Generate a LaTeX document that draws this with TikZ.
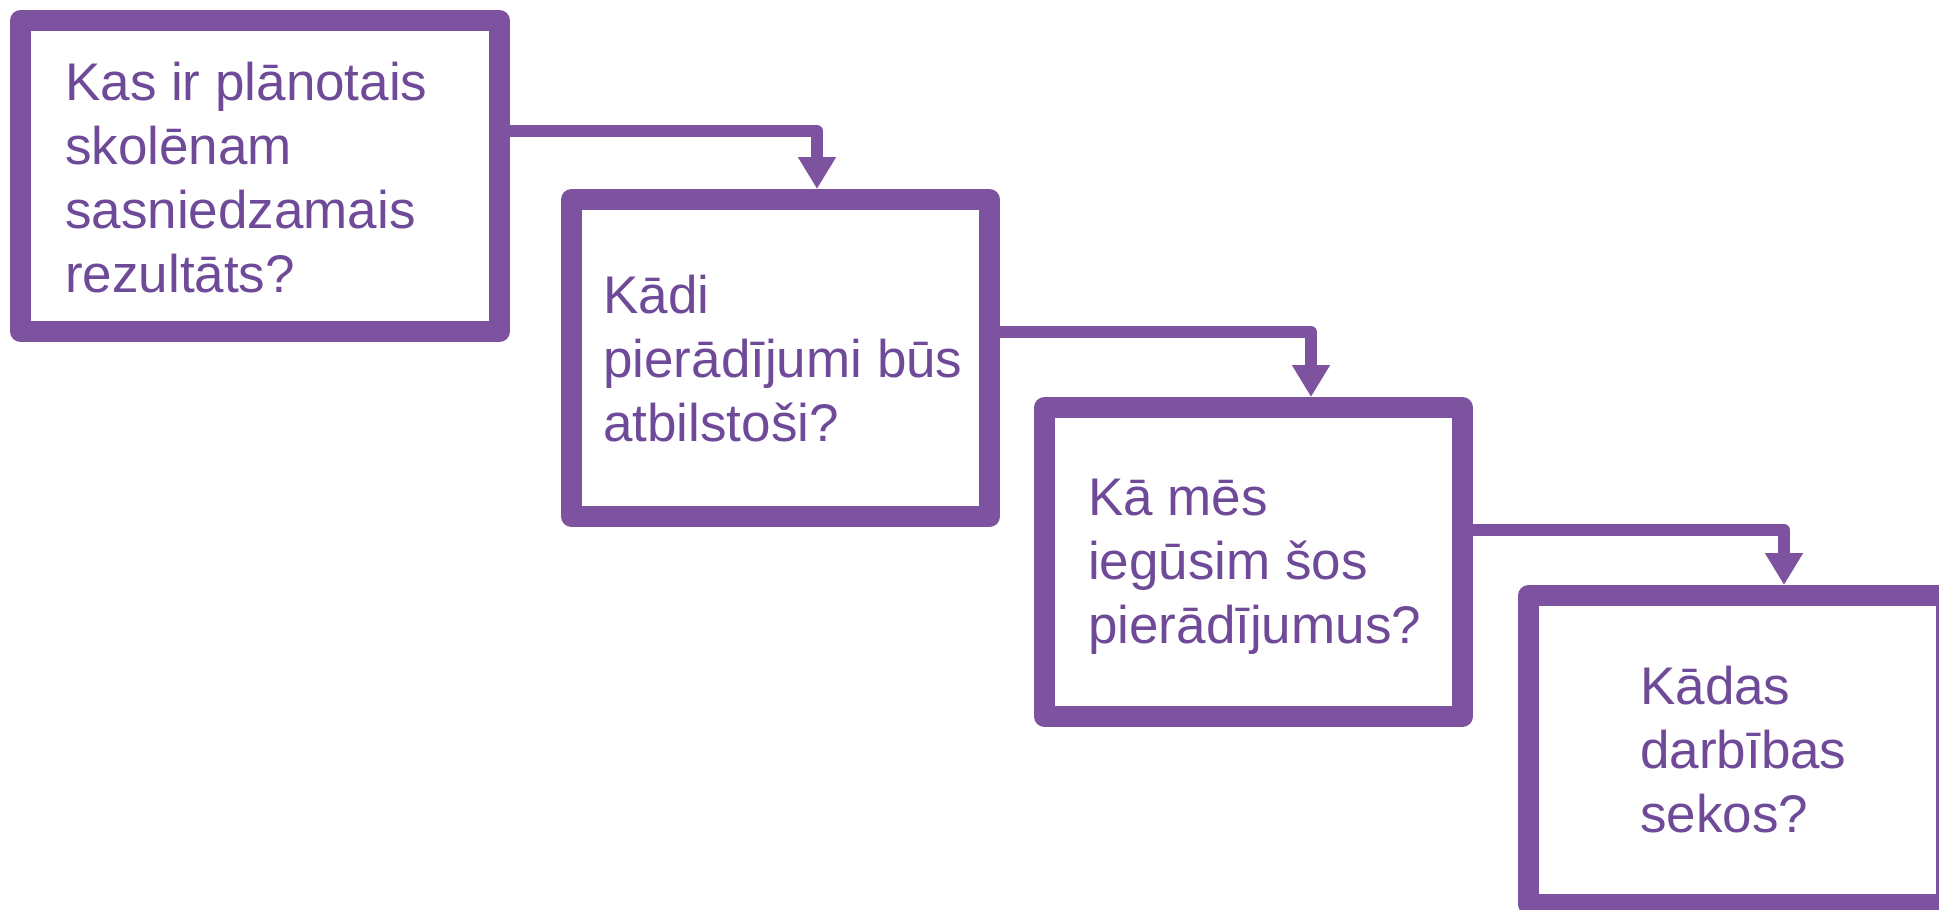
\documentclass[tikz,border=0pt]{standalone}
\usepackage{fontspec}
\setmainfont{Liberation Sans}
\usetikzlibrary{arrows.meta}
\definecolor{boxc}{HTML}{7D529F}
\definecolor{txtc}{HTML}{6E4A98}
\begin{document}
\begin{tikzpicture}[x=1pt,y=-1pt,
  qbox/.style={draw=boxc, line width=21pt, line join=round, fill=white, inner sep=0pt},
  qtext/.style={text=txtc, font=\fontsize{53}{64}\selectfont, align=left, inner sep=0pt},
  conn/.style={draw=boxc, line width=12pt, line join=round, -{Triangle[width=36pt,length=32pt]}}]
\useasboundingbox (0,0) rectangle (1939,910);
\node[qbox, minimum width=479pt, minimum height=311pt] (b1) at (260,176) {};
\node[qbox, minimum width=418pt, minimum height=317pt] (b2) at (780.5,358) {};
\node[qbox, minimum width=418pt, minimum height=309pt] (b3) at (1253.5,562) {};
\node[qbox, minimum width=418pt, minimum height=309pt] (b4) at (1737.5,750) {};
\node[qtext, anchor=base west] (t1) at (65,292) {Kas ir plānotais\\skolēnam\\sasniedzamais\\rezultāts?};
\node[qtext, anchor=base west] (t2) at (603,441) {Kādi\\pierādījumi būs\\atbilstoši?};
\node[qtext, anchor=base west] (t3) at (1088,643) {Kā mēs\\iegūsim šos\\pierādījumus?};
\node[qtext, anchor=base west] (t4) at (1640,832) {Kādas\\darbības\\sekos?};
\draw[conn] ([yshift=45pt]b1.east) -| ([xshift=36.5pt]b2.north);
\draw[conn] ([yshift=26pt]b2.east) -| ([xshift=57.5pt]b3.north);
\draw[conn] ([yshift=32pt]b3.east) -| ([xshift=46.5pt]b4.north);
\end{tikzpicture}
\end{document}
